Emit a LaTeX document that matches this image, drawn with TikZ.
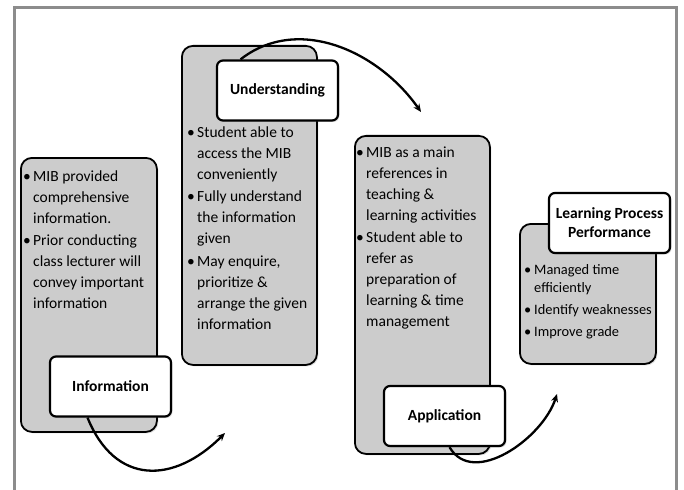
\documentclass[tikz,border=0pt]{standalone}
\usepackage{fontspec}
\setmainfont{Carlito}
\usepackage{tikz}
\usetikzlibrary{arrows.meta,shadows}

\newcommand{\bul}{\makebox[10pt][l]{\textbullet}}
\newcommand{\ind}{\hspace*{10pt}}

\begin{document}
\begin{tikzpicture}[x=1pt,y=-1pt]
      \useasboundingbox (0,0) rectangle (684,489);
      \draw[line width=3pt,black!45] (14,492) -- (14,8) -- (676,8) -- (676,492);
      \begin{scope}[every node/.style={draw=black,line width=1.8pt,fill=black!20,
          rounded corners=11pt,anchor=north west,inner sep=0pt,
          drop shadow={opacity=0.25,shadow xshift=1.5pt,shadow yshift=-1.5pt}}]
        \node[minimum width=136pt,minimum height=274pt] (infobox) at (20,157) {};
        \node[minimum width=135pt,minimum height=319pt] (underbox) at (181,45) {};
        \node[minimum width=135pt,minimum height=318pt] (appbox) at (354,135) {};
        \node[minimum width=136pt,minimum height=140pt] (perfbox) at (519,223) {};
      \end{scope}
      \begin{scope}[every node/.style={anchor=north west,inner sep=0pt,align=left,
          font=\fontsize{15.5}{21}\selectfont}]
        \node (infotext) at (23,170.5) {\bul MIB provided\\ \ind comprehensive\\ \ind information.\\[1.5pt]
          \bul Prior conducting\\ \ind class lecturer will\\ \ind convey important\\ \ind information};
        \node (undertext) at (187,126.5) {\bul Student able to\\ \ind access the MIB\\ \ind conveniently\\[1.5pt]
          \bul Fully understand\\ \ind the information\\ \ind given\\[1.5pt]
          \bul May enquire,\\ \ind prioritize \&\\ \ind arrange the given\\ \ind information};
        \node (apptext) at (356,146.5) {\bul MIB as a main\\ \ind references in\\ \ind teaching \&\\ \ind learning activities\\[1.5pt]
          \bul Student able to\\ \ind refer as\\ \ind preparation of\\ \ind learning \& time\\ \ind management};
        \node[font=\fontsize{14.4}{18}\selectfont] (perftext) at (524,264) {\bul Managed time\\ \ind efficiently\\[4pt]
          \bul Identify weaknesses\\[4pt] \bul Improve grade};
      \end{scope}
      \begin{scope}[every node/.style={draw=black,line width=2.2pt,fill=white,rounded corners=6pt,
          minimum width=121pt,minimum height=60pt,align=center,
          font=\fontsize{15.5}{19}\selectfont\bfseries,
          drop shadow={opacity=0.25,shadow xshift=1.5pt,shadow yshift=-1.5pt}}]
        \node (info) at (110.5,386.5) {Information};
        \node (under) at (277.5,90.5) {Understanding};
        \node (app) at (444.5,416) {Application};
        \node (perf) at (609.5,223) {Learning Process\\Performance};
      \end{scope}
      \coordinate (e1) at (225,433);
      \coordinate (e2) at (421,112);
      \coordinate (e3) at (557,394);
      \begin{scope}[>={Stealth[length=8pt,width=7pt]},
          every edge/.style={draw=black,line width=2.3pt}]
        \path ([xshift=-23pt]info.south) edge[->,out=-68,in=-135,looseness=1.35] (e1);
        \path ([xshift=-37pt]under.north) edge[->,out=38,in=125] (e2);
        \path ([xshift=5pt]app.south) edge[->,out=-60,in=-108] (e3);
      \end{scope}
    \end{tikzpicture}
\end{document}
